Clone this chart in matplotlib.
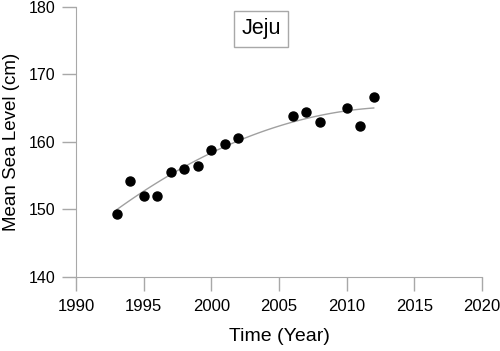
import numpy as np
import matplotlib.pyplot as plt

plt.rcParams['font.family'] = ['Liberation Sans', 'DejaVu Sans']

years = [1993, 1994, 1995, 1996, 1997, 1998, 1999, 2000, 2001, 2002,
         2006, 2007, 2008, 2010, 2011, 2012]
sea_level = [149.3, 154.2, 152.0, 152.0, 155.5, 156.0, 156.4, 158.8, 159.75, 160.6,
             163.8, 164.4, 162.9, 165.0, 162.4, 166.6]
x_ticks = [1990, 1995, 2000, 2005, 2010, 2015, 2020]
y_ticks = [140, 150, 160, 170, 180]

fig = plt.figure(figsize=(5, 3.51), dpi=100)
ax = fig.add_axes([0.152, 0.211, 0.812, 0.769])

# quadratic trend through the points
coef = np.polyfit(years, sea_level, 2)
xs = np.linspace(min(years), max(years), 100)
ax.plot(xs, np.polyval(coef, xs), color='#a0a0a0', lw=1)

ax.plot(years, sea_level, 'o', color='black', markersize=6.5)

ax.set_xlim(1990, 2020)
ax.set_ylim(140, 180)
ax.set_xticks(x_ticks)
ax.set_yticks(y_ticks)

for s in ['top', 'right']:
    ax.spines[s].set_visible(False)
for s in ['left', 'bottom']:
    ax.spines[s].set_color('#a8a8a8')
ax.tick_params(color='#a8a8a8', length=10, width=1)
ax.tick_params(axis='x', labelsize=12, pad=6)
ax.tick_params(axis='y', labelsize=11.5, pad=5)

ax.set_xlabel('Time (Year)', fontsize=14, labelpad=10)
ax.set_ylabel('Mean Sea Level (cm)', fontsize=13.5, labelpad=6)

ax.text(0.456, 0.92, 'Jeju', transform=ax.transAxes, fontsize=15.5,
        ha='center', va='center',
        bbox=dict(facecolor='white', edgecolor='#a8a8a8', boxstyle='square,pad=0.35'))

plt.savefig('out.png', dpi=100)
